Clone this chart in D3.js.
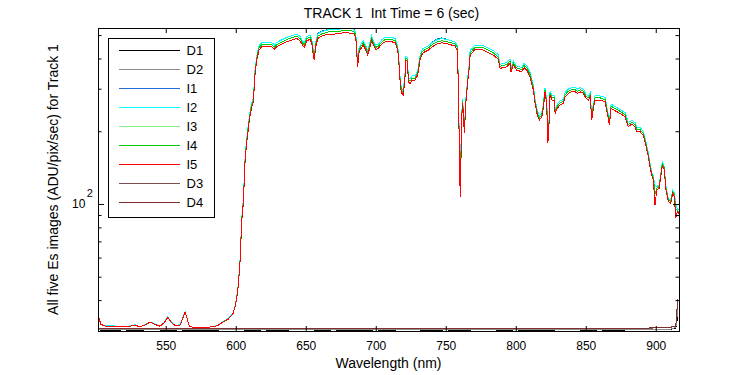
<!DOCTYPE html>
<html>
<head>
<meta charset="utf-8">
<script src="https://cdn.jsdelivr.net/npm/d3@7"></script>
<style>
  body { margin: 0; background: #fff; }
  svg text { font-family: "Liberation Sans", Arial, sans-serif; fill: #000; }
</style>
</head>
<body>
<div id="chart"></div>
<script>
var svgWidth = 750;
var svgHeight = 375;

var margin = { top: 28, right: 71, bottom: 44, left: 98 };
var chWidth = svgWidth - margin.left - margin.right;
var chHeight = svgHeight - margin.top - margin.bottom;

// wavelength grid of the illuminated spectra (nm)
var waveI = [
  502.4, 503.6, 506.6, 512.6, 519.7, 524.5, 528.1, 531.6, 535.2, 538.8,
  542.4, 545.9, 548.8, 551.4, 554.3, 556.6, 560.2, 562.6, 563.8, 565.4,
  566.9, 574.5, 584.0, 587.6, 591.1, 594.7, 597.9, 599.5, 600.7, 601.9,
  602.6, 603.3, 603.8, 604.5, 605.4, 606.1, 606.6, 607.4, 608.6, 609.7,
  611.4, 612.6, 613.8, 615.0, 616.6, 618.6, 620.9, 625.7, 627.6, 629.3,
  632.9, 636.4, 640.0, 643.6, 645.9, 647.6, 649.0, 650.7, 653.1, 654.3,
  655.4, 656.1, 657.1, 658.6, 661.4, 666.1, 670.9, 678.1, 684.0, 685.7,
  686.4, 687.1, 688.1, 689.5, 691.1, 692.9, 694.3, 695.4, 697.1, 698.3,
  700.0, 701.9, 704.3, 706.6, 711.4, 713.8, 715.7, 716.9, 717.6, 718.6,
  719.7, 720.9, 721.6, 722.6, 723.3, 724.5, 726.1, 728.1, 730.0, 731.6,
  733.3, 735.2, 737.6, 740.4, 743.6, 747.1, 751.9, 756.6, 758.3, 759.0,
  760.0, 760.4, 761.4, 762.1, 763.3, 764.3, 765.7, 766.9, 767.4, 770.9,
  776.9, 784.0, 787.4, 788.8, 793.6, 795.9, 796.6, 798.3, 800.7, 804.3,
  805.9, 807.9, 810.2, 812.6, 813.8, 815.4, 816.9, 818.6, 819.7, 820.9,
  822.1, 822.9, 823.6, 824.5, 825.9, 827.4, 828.1, 829.7, 831.6, 834.0,
  835.2, 837.6, 840.0, 842.4, 844.0, 846.0, 848.3, 850.2, 851.9, 853.1,
  854.3, 855.4, 856.6, 860.2, 863.8, 865.4, 866.9, 868.1, 870.9, 874.5,
  878.1, 880.4, 882.9, 885.2, 886.4, 888.8, 891.1, 893.1, 894.7, 895.9,
  897.4, 898.3, 899.5, 900.7, 902.4, 903.6, 904.7, 906.1, 907.1, 909.0,
  910.7, 912.1, 913.3, 914.3, 915.4, 916.6
];

var I1 = [
  33.8, 31.9, 31.3, 31.3, 31.0, 31.3, 31.6, 31.0, 31.7, 32.5,
  31.8, 31.3, 32.3, 34.1, 32.3, 31.5, 31.6, 34.3, 35.9, 33.4,
  31.0, 30.8, 31.0, 31.6, 32.6, 33.6, 35.2, 37.7, 41.3, 46.9,
  54.2, 61.8, 75.0, 91.1, 104, 130, 153, 176, 204, 231,
  263, 276, 362, 410, 452, 466, 466, 466, 455, 466,
  478, 489, 497, 505, 494, 474, 464, 494, 500, 482,
  431, 410, 466, 508, 519, 529, 529, 537, 533, 513,
  438, 385, 444, 459, 474, 452, 431, 455, 497, 474,
  455, 459, 478, 489, 489, 484, 452, 373, 318, 299,
  294, 350, 410, 404, 334, 329, 339, 339, 356, 410,
  438, 444, 452, 469, 481, 487, 478, 469, 452, 318,
  140, 133, 239, 271, 204, 271, 334, 385, 431, 455,
  452, 431, 415, 379, 385, 398, 367, 391, 373, 367,
  381, 373, 350, 308, 271, 243, 231, 239, 259, 303,
  271, 200, 210, 294, 280, 280, 246, 259, 267, 271,
  289, 299, 303, 303, 299, 303, 299, 285, 280, 289,
  231, 259, 280, 280, 276, 246, 220, 259, 253, 246,
  239, 217, 222, 217, 207, 207, 200, 179, 163, 148,
  134, 130, 120, 118, 120, 134, 150, 143, 120, 105,
  104, 114, 111, 100, 95.6, 94.2
];

var I2 = [
  33.8, 31.9, 31.3, 31.3, 31.0, 31.3, 31.6, 31.0, 31.7, 32.5,
  31.8, 31.3, 32.3, 34.1, 32.3, 31.5, 31.6, 34.3, 35.9, 33.4,
  31.0, 30.8, 31.0, 31.6, 32.6, 33.6, 35.2, 37.7, 41.3, 46.9,
  54.2, 61.8, 75.0, 91.1, 104, 130, 153, 176, 204, 231,
  263, 276, 362, 410, 452, 466, 466, 466, 455, 466,
  478, 489, 497, 505, 494, 474, 464, 494, 500, 482,
  431, 410, 466, 505, 516, 526, 526, 534, 530, 513,
  438, 385, 444, 459, 474, 452, 431, 455, 497, 474,
  455, 459, 478, 489, 489, 484, 452, 373, 318, 299,
  294, 350, 410, 404, 334, 329, 339, 339, 356, 410,
  438, 444, 452, 466, 478, 484, 478, 469, 452, 318,
  140, 133, 239, 271, 204, 271, 334, 385, 431, 455,
  452, 431, 415, 379, 385, 398, 367, 391, 373, 367,
  381, 373, 350, 308, 271, 243, 231, 239, 259, 303,
  271, 200, 210, 294, 280, 280, 246, 259, 267, 271,
  289, 299, 303, 303, 299, 303, 299, 285, 280, 289,
  231, 259, 280, 280, 276, 246, 220, 259, 253, 246,
  239, 217, 222, 217, 207, 207, 200, 179, 163, 148,
  134, 130, 120, 118, 120, 134, 150, 143, 120, 105,
  104, 114, 111, 100, 95.6, 94.2
];

var I3 = [
  33.7, 31.8, 31.2, 31.2, 31.0, 31.2, 31.5, 31.0, 31.6, 32.5,
  31.7, 31.2, 32.2, 34.0, 32.2, 31.4, 31.5, 34.2, 35.7, 33.4,
  31.0, 30.8, 31.0, 31.5, 32.6, 33.5, 35.1, 37.6, 41.0, 46.6,
  53.7, 61.1, 74.0, 89.8, 102, 128, 150, 173, 200, 227,
  258, 270, 354, 402, 443, 457, 457, 457, 445, 457,
  468, 479, 487, 495, 484, 464, 454, 484, 490, 472,
  422, 402, 457, 495, 506, 515, 515, 523, 519, 502,
  429, 377, 435, 450, 464, 443, 422, 445, 487, 464,
  445, 450, 468, 479, 479, 474, 443, 366, 312, 293,
  288, 343, 402, 396, 327, 322, 332, 332, 349, 402,
  429, 435, 443, 457, 468, 474, 468, 460, 443, 312,
  135, 120, 234, 266, 200, 266, 327, 377, 422, 445,
  443, 422, 406, 372, 377, 390, 360, 383, 366, 360,
  374, 366, 343, 302, 266, 238, 227, 234, 254, 297,
  266, 190, 206, 288, 275, 275, 242, 254, 262, 266,
  283, 293, 297, 297, 293, 297, 293, 279, 275, 283,
  227, 254, 275, 275, 270, 242, 216, 254, 248, 242,
  234, 213, 218, 213, 203, 203, 196, 176, 160, 145,
  132, 128, 110, 116, 118, 132, 147, 141, 118, 104,
  102, 112, 109, 95, 94.2, 92.8
];

var I4 = [
  33.7, 31.8, 31.2, 31.2, 31.0, 31.2, 31.5, 31.0, 31.6, 32.5,
  31.7, 31.2, 32.2, 34.0, 32.2, 31.4, 31.5, 34.2, 35.7, 33.4,
  31.0, 30.8, 31.0, 31.5, 32.6, 33.5, 35.1, 37.6, 41.0, 46.6,
  53.7, 61.1, 74.0, 89.8, 102, 128, 150, 173, 200, 227,
  258, 270, 354, 402, 443, 457, 457, 457, 445, 457,
  468, 479, 487, 495, 484, 464, 454, 484, 490, 472,
  422, 402, 457, 495, 506, 515, 515, 523, 519, 502,
  429, 377, 435, 450, 464, 443, 422, 445, 487, 464,
  445, 450, 468, 479, 479, 474, 443, 366, 312, 293,
  288, 343, 402, 396, 327, 322, 332, 332, 349, 402,
  429, 435, 443, 457, 468, 474, 468, 460, 443, 312,
  135, 120, 234, 266, 200, 266, 327, 377, 422, 445,
  443, 422, 406, 372, 377, 390, 360, 383, 366, 360,
  374, 366, 343, 302, 266, 238, 227, 234, 254, 297,
  266, 190, 206, 288, 275, 275, 242, 254, 262, 266,
  283, 293, 297, 297, 293, 297, 293, 279, 275, 283,
  227, 254, 275, 275, 270, 242, 216, 254, 248, 242,
  234, 213, 218, 213, 203, 203, 196, 176, 160, 145,
  132, 128, 110, 116, 118, 132, 147, 141, 118, 104,
  102, 112, 109, 95, 94.2, 92.8
];

var I5 = [
  33.6, 31.8, 31.2, 31.2, 31.0, 31.2, 31.5, 31.0, 31.6, 32.4,
  31.7, 31.2, 32.2, 33.9, 32.2, 31.4, 31.5, 34.1, 35.6, 33.3,
  31.0, 30.8, 31.0, 31.5, 32.5, 33.4, 35.0, 37.4, 40.8, 46.2,
  53.2, 60.4, 73.1, 88.5, 100.6, 125.6, 147.2, 169.9, 196.0, 222.5,
  252.6, 264.9, 347.2, 394.0, 433.6, 447.4, 447.4, 447.4, 436.4, 447.4,
  459.0, 469.2, 476.9, 484.6, 473.7, 454.7, 444.8, 473.7, 480.1, 462.1,
  413.3, 394.0, 447.4, 484.6, 495.3, 504.9, 504.9, 512.0, 508.3, 492.1,
  420.1, 369.8, 426.6, 440.6, 454.7, 433.6, 413.3, 436.4, 476.9, 454.7,
  436.4, 440.6, 459.0, 469.2, 469.2, 464.8, 433.6, 358.3, 305.5, 287.0,
  282.3, 336.1, 394.0, 387.8, 320.4, 315.6, 325.7, 325.7, 341.6, 394.0,
  420.1, 426.6, 433.6, 447.4, 459.0, 464.8, 459.0, 450.4, 433.6, 305.5,
  129.6, 107.1, 229.6, 260.9, 196.0, 260.9, 320.4, 369.8, 413.3, 436.4,
  433.6, 413.3, 397.9, 364.2, 369.8, 381.9, 352.5, 375.7, 358.3, 352.5,
  366.3, 358.3, 336.1, 296.1, 260.9, 233.4, 222.5, 229.6, 248.7, 291.3,
  260.9, 178.2, 202.2, 282.3, 269.2, 269.2, 237.1, 248.7, 256.7, 260.9,
  277.7, 287.0, 291.3, 291.3, 287.0, 291.3, 287.0, 273.5, 269.2, 277.7,
  222.5, 248.7, 269.2, 269.2, 264.9, 237.1, 212.1, 248.7, 243.1, 237.1,
  229.6, 208.7, 214.1, 208.7, 199.0, 199.0, 192.8, 172.5, 156.8, 142.6,
  129.6, 125.6, 99.0, 114.2, 116.0, 129.6, 144.9, 138.1, 116.0, 102.1,
  100.6, 110.6, 107.1, 87.2, 92.8, 91.4
];

// dark frames, coarser grid (nm)
var waveD = [
  502, 510, 520, 530, 540, 550, 560, 570, 580, 590,
  600, 610, 620, 630, 640, 650, 660, 670, 680, 690,
  700, 710, 720, 730, 740, 750, 760, 770, 780, 790,
  800, 810, 820, 830, 840, 850, 860, 870, 880, 890,
  900, 910, 914.3, 915.0, 915.7
];

var D1 = [
  30.1, 30.0, 30.1, 30.0, 30.2, 30.0, 30.1, 30.0, 30.0, 30.1,
  30.2, 30.0, 30.1, 30.0, 30.1, 30.2, 30.0, 30.1, 30.0, 30.0,
  30.1, 30.0, 30.2, 30.1, 30.0, 30.1, 30.0, 30.1, 30.2, 30.0,
  30.1, 30.0, 30.0, 30.1, 30.2, 30.0, 30.1, 30.0, 30.1, 30.2,
  30.1, 30.2, 30.6, 32.0, 35.0
];
var D2 = [
  30.2, 30.1, 30.2, 30.3, 30.1, 30.2, 30.2, 30.1, 30.3, 30.2,
  30.1, 30.2, 30.3, 30.2, 30.1, 30.2, 30.3, 30.2, 30.2, 30.1,
  30.3, 30.2, 30.1, 30.2, 30.3, 30.2, 30.1, 30.2, 30.2, 30.3,
  30.2, 30.1, 30.3, 30.2, 30.2, 30.1, 30.3, 30.2, 30.2, 30.3,
  30.2, 30.3, 30.8, 33.0, 37.0
];
var D3 = [
  30.6, 30.4, 30.5, 30.4, 30.6, 30.5, 30.4, 30.5, 30.6, 30.4,
  30.5, 30.5, 30.4, 30.6, 30.5, 30.4, 30.5, 30.6, 30.5, 30.4,
  30.5, 30.6, 30.4, 30.5, 30.5, 30.6, 30.4, 30.5, 30.6, 30.5,
  30.4, 30.5, 30.6, 30.5, 30.4, 30.5, 30.5, 30.6, 30.4, 30.5,
  30.7, 30.8, 31.3, 35.2, 40.2
];
var D4 = [
  30.5, 30.6, 30.4, 30.5, 30.5, 30.6, 30.5, 30.4, 30.5, 30.6,
  30.4, 30.6, 30.5, 30.5, 30.6, 30.5, 30.4, 30.5, 30.6, 30.5,
  30.4, 30.5, 30.6, 30.4, 30.6, 30.5, 30.5, 30.4, 30.5, 30.6,
  30.5, 30.6, 30.4, 30.5, 30.6, 30.5, 30.4, 30.5, 30.6, 30.5,
  30.8, 30.9, 31.2, 35.5, 40.4
];

var xTicks = [550, 600, 650, 700, 750, 800, 850, 900];
var yMinorTicks = [40, 50, 60, 70, 80, 90, 200, 300, 400, 500];

// legend / plot order
var series = [
  { name: "D1", wave: waveD, vals: D1, color: "#000000" },
  { name: "D2", wave: waveD, vals: D2, color: "#8c8c8c" },
  { name: "I1", wave: waveI, vals: I1, color: "#1f6fd6" },
  { name: "I2", wave: waveI, vals: I2, color: "#00ffff" },
  { name: "I3", wave: waveI, vals: I3, color: "#88ee88" },
  { name: "I4", wave: waveI, vals: I4, color: "#00cc00" },
  { name: "I5", wave: waveI, vals: I5, color: "#ff0000" },
  { name: "D3", wave: waveD, vals: D3, color: "#7a5050" },
  { name: "D4", wave: waveD, vals: D4, color: "#803030" }
];

var svg = d3.select("#chart")
  .append("svg")
  .attr("width", svgWidth)
  .attr("height", svgHeight);

var chGroup = svg.append("g")
  .attr("transform", `translate(${margin.left}, ${margin.top})`);

var xScale = d3.scaleLinear()
  .domain([501.6, 916.6])
  .range([0, chWidth]);

var yScale = d3.scaleLog()
  .domain([29.8, 535])
  .range([chHeight, 0]);

chGroup.append("clipPath")
  .attr("id", "plotclip")
  .append("rect")
  .attr("width", chWidth)
  .attr("height", chHeight);

var line = d3.line()
  .x(d => xScale(d[0]))
  .y(d => yScale(d[1]));

// curves
chGroup.append("g")
  .attr("clip-path", "url(#plotclip)")
  .selectAll("path")
  .data(series)
  .enter()
  .append("path")
  .attr("d", d => line(d3.zip(d.wave, d.vals)))
  .attr("fill", "none")
  .attr("stroke", d => d.color)
  .attr("stroke-width", 1)
  .attr("shape-rendering", "crispEdges");

// axes (ticks pointing inwards)
function styleAxis(g) {
  g.select(".domain").remove();
  g.selectAll(".tick line").attr("stroke", "#000");
  g.selectAll(".tick text")
    .style("font-size", "12px")
    .style("font-family", "'Liberation Sans', Arial, sans-serif");
}

chGroup.append("g")
  .attr("transform", `translate(0, ${chHeight})`)
  .call(d3.axisBottom(xScale).tickValues(xTicks).tickSize(-5).tickPadding(10).tickFormat(d3.format("d")))
  .call(styleAxis);

chGroup.append("g")
  .call(d3.axisTop(xScale).tickValues(xTicks).tickSize(-5).tickFormat(""))
  .call(styleAxis);

chGroup.append("g")
  .call(d3.axisLeft(yScale).tickValues(yMinorTicks).tickSize(-3.5).tickFormat(""))
  .call(styleAxis);
chGroup.append("g")
  .call(d3.axisLeft(yScale).tickValues([100]).tickSize(-6).tickFormat(""))
  .call(styleAxis);

chGroup.append("g")
  .attr("transform", `translate(${chWidth}, 0)`)
  .call(d3.axisRight(yScale).tickValues(yMinorTicks).tickSize(-3.5).tickFormat(""))
  .call(styleAxis);
chGroup.append("g")
  .attr("transform", `translate(${chWidth}, 0)`)
  .call(d3.axisRight(yScale).tickValues([100]).tickSize(-6).tickFormat(""))
  .call(styleAxis);

// 10^2 label
var yLab = chGroup.append("text")
  .attr("x", -26)
  .attr("y", yScale(100) + 4.5)
  .attr("text-anchor", "start")
  .style("font-size", "12px");
yLab.append("tspan").text("10");
yLab.append("tspan")
  .attr("dx", 1.5)
  .attr("dy", -11)
  .style("font-size", "11px")
  .text("2");

// frame
chGroup.append("rect")
  .attr("x", 0.5)
  .attr("y", 0.5)
  .attr("width", chWidth)
  .attr("height", chHeight)
  .attr("fill", "none")
  .attr("stroke", "#000")
  .attr("stroke-width", 1);

// legend
var legend = chGroup.append("g")
  .attr("transform", "translate(10.5, 10.5)");

legend.append("rect")
  .attr("width", 106)
  .attr("height", 179)
  .attr("fill", "#fff")
  .attr("stroke", "#000");

var legItems = legend.selectAll(".leg")
  .data(series)
  .enter()
  .append("g")
  .attr("transform", (d, i) => `translate(0, ${12 + i * 19})`);

legItems.append("line")
  .attr("x1", 10)
  .attr("x2", 71)
  .attr("stroke", d => d.color)
  .attr("shape-rendering", "crispEdges");

legItems.append("text")
  .attr("x", 78)
  .attr("dy", "0.36em")
  .style("font-size", "13px")
  .text(d => d.name);

// titles
svg.append("text")
  .attr("x", margin.left + chWidth / 2 + 3)
  .attr("y", 18)
  .attr("text-anchor", "middle")
  .style("font-size", "14px")
  .attr("xml:space", "preserve")
  .text("TRACK 1  Int Time = 6 (sec)");

svg.append("text")
  .attr("x", margin.left + chWidth / 2)
  .attr("y", 368)
  .attr("text-anchor", "middle")
  .style("font-size", "14px")
  .text("Wavelength (nm)");

svg.append("text")
  .attr("transform", "rotate(-90)")
  .attr("x", -(margin.top + chHeight / 2))
  .attr("y", 58)
  .attr("text-anchor", "middle")
  .style("font-size", "14px")
  .text("All five Es images (ADU/pix/sec) for Track 1");
</script>
</body>
</html>
